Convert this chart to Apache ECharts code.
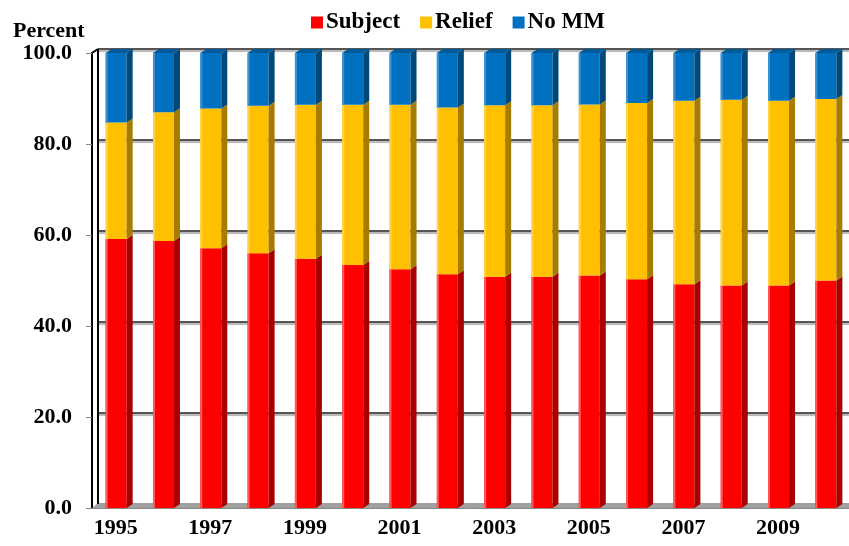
<!DOCTYPE html>
<html>
<head>
<meta charset="utf-8">
<script src="https://cdn.jsdelivr.net/npm/echarts@6/dist/echarts.min.js"></script>
<style>
  html, body { margin: 0; padding: 0; background: #fff; }
  #chart { width: 849px; height: 546px; }
</style>
</head>
<body>
<div id="chart"></div>
<script>
var years = ['1995', '1996', '1997', '1998', '1999', '2000', '2001', '2002',
             '2003', '2004', '2005', '2006', '2007', '2008', '2009', '2010'];
var subject = [59.1, 58.7, 57.1, 56.0, 54.8, 53.4, 52.5, 51.4, 50.8, 50.8, 51.1, 50.3, 49.2, 48.9, 48.9, 50.0];
var relief  = [25.6, 28.3, 30.7, 32.4, 33.8, 35.2, 36.1, 36.6, 37.7, 37.7, 37.6, 38.7, 40.3, 40.8, 40.6, 39.9];
var noMM    = [15.3, 13.0, 12.2, 11.6, 11.4, 11.4, 11.4, 12.0, 11.5, 11.5, 11.3, 11.0, 10.5, 10.3, 10.5, 10.1];
var yTicks  = [0, 20, 40, 60, 80, 100];

var chart = echarts.init(document.getElementById('chart'));
var serif = '"Liberation Serif", "Times New Roman", serif';
var DX = 6, DY = 4, BW = 21;

// stacked ranges [idx, low, high]
function stack(list, below) {
  return list.map(function (v, i) {
    var lo = 0;
    below.forEach(function (b) { lo += b[i]; });
    return [i, lo, lo + v];
  });
}

function barRenderer(col, withTop) {
  return function (params, api) {
    var idx = api.value(0);
    var pLo = api.coord([idx, api.value(1)]);
    var pHi = api.coord([idx, api.value(2)]);
    var xl = pLo[0] - 10, xr = xl + BW;
    var yb = pLo[1], yt = pHi[1];
    var kids = [
      { type: 'rect', shape: { x: xl, y: yt, width: BW, height: yb - yt }, style: { fill: col.front } },
      { type: 'rect', shape: { x: xl, y: yt, width: 2, height: yb - yt }, style: { fill: col.light } },
      { type: 'polygon', shape: { points: [[xr, yt], [xr + DX, yt - DY], [xr + DX, yb - DY], [xr, yb]] }, style: { fill: col.side } }
    ];
    if (withTop) {
      kids.push({ type: 'polygon', shape: { points: [[xl, yt], [xl + DX, yt - DY], [xr + DX, yt - DY], [xr, yt]] }, style: { fill: col.top } });
    }
    return { type: 'group', children: kids };
  };
}

function decorRenderer(params, api) {
  var cs = params.coordSys;
  var x0 = cs.x, y0 = cs.y + cs.height, x1 = cs.x + cs.width;
  return {
    type: 'group',
    children: [
      { type: 'polygon', shape: { points: [[x0, y0], [x0 + DX, y0 - DY - 1], [x1, y0 - DY - 1], [x1, y0]] }, style: { fill: '#a0a0a0' } },
      { type: 'polyline', shape: { points: [[x0 + DX, y0 - DY], [x0 + DX, cs.y - DY]] }, style: { stroke: '#000', lineWidth: 2, fill: null } },
      { type: 'polyline', shape: { points: [[x0, cs.y], [x0 + DX, cs.y - DY]] }, style: { stroke: '#000', lineWidth: 2, fill: null } }
    ]
  };
}

var cRed = { front: '#ff0000', side: '#a80000', light: '#ff5a5a' };
var cYel = { front: '#ffc000', side: '#a67c00', light: '#ffd24a' };
var cBlu = { front: '#0070c0', side: '#004878', light: '#3f92d2', top: '#005a98' };

option = {
  backgroundColor: '#fff',
  animation: false,
  title: {
    text: 'Percent',
    left: 8,
    top: 15,
    textStyle: { fontFamily: serif, fontWeight: 'bold', fontSize: 22, color: '#000' }
  },
  legend: {
    left: 306,
    top: 6,
    icon: 'rect',
    itemWidth: 12,
    itemHeight: 12,
    itemGap: 20,
    data: ['Subject', 'Relief', 'No MM'],
    textStyle: { fontFamily: serif, fontWeight: 'bold', fontSize: 23, color: '#000', padding: [0, 0, 0, -2] }
  },
  grid: [
    { left: 92, right: 0, top: 53, bottom: 38 },
    { left: 92 + DX, right: 0, top: 53 - DY, bottom: 38 + DY }
  ],
  xAxis: [{
    type: 'category',
    gridIndex: 0,
    data: years,
    axisLine: { lineStyle: { color: '#888', width: 1 } },
    axisTick: { length: 6, lineStyle: { color: '#888' } },
    axisLabel: {
      interval: 1,
      margin: 9,
      fontFamily: serif, fontWeight: 'bold', fontSize: 22, color: '#000'
    }
  }, {
    type: 'category',
    gridIndex: 1,
    data: years,
    show: false
  }],
  yAxis: [{
    type: 'value',
    gridIndex: 0,
    min: 0, max: 100, interval: 20,
    axisLine: { show: true, lineStyle: { color: '#000', width: 2 } },
    axisTick: { show: true, length: 6, lineStyle: { color: '#888' } },
    splitLine: { show: false },
    axisLabel: {
      margin: 20,
      formatter: function (v) { return yTicks.indexOf(v) >= 0 ? v.toFixed(1) : ''; },
      fontFamily: serif, fontWeight: 'bold', fontSize: 22, color: '#000'
    }
  }, {
    type: 'value',
    gridIndex: 1,
    min: 0, max: 100, interval: 20,
    axisLine: { show: false },
    axisTick: { show: false },
    axisLabel: { show: false },
    splitLine: {
      show: true,
      showMinLine: false,
      lineStyle: { color: '#555', width: 2, shadowColor: 'rgba(0,0,0,0.3)', shadowOffsetY: 2, shadowBlur: 1 }
    }
  }],
  series: [{
    name: 'decor',
    type: 'custom',
    xAxisIndex: 0, yAxisIndex: 0,
    silent: true,
    renderItem: decorRenderer,
    data: [[0, 0]],
    z: 1
  }, {
    name: 'Subject',
    type: 'custom',
    xAxisIndex: 0, yAxisIndex: 0,
    itemStyle: { color: cRed.front },
    renderItem: barRenderer(cRed, false),
    encode: { x: 0, y: [1, 2] },
    data: stack(subject, []),
    z: 3
  }, {
    name: 'Relief',
    type: 'custom',
    xAxisIndex: 0, yAxisIndex: 0,
    itemStyle: { color: cYel.front },
    renderItem: barRenderer(cYel, false),
    encode: { x: 0, y: [1, 2] },
    data: stack(relief, [subject]),
    z: 3
  }, {
    name: 'No MM',
    type: 'custom',
    xAxisIndex: 0, yAxisIndex: 0,
    itemStyle: { color: cBlu.front },
    renderItem: barRenderer(cBlu, true),
    encode: { x: 0, y: [1, 2] },
    data: stack(noMM, [subject, relief]),
    z: 3
  }]
};
chart.setOption(option);
window.addEventListener('resize', function () {
  chart.resize();
});
</script>
</body>
</html>
